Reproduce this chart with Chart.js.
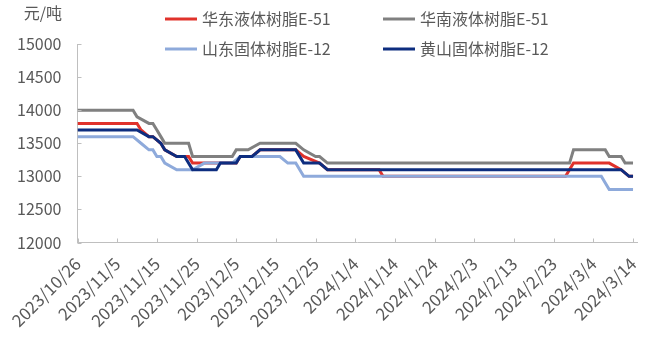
<!DOCTYPE html>
<html>
<head>
<meta charset="utf-8">
<script src="https://cdn.jsdelivr.net/npm/chart.js@4.4.1/dist/chart.umd.min.js"></script>
<style>
html,body{margin:0;padding:0;background:#ffffff;}
canvas{display:block;}
</style>
</head>
<body>
<canvas id="c" width="660" height="341"></canvas>
<script>
// ---------- data ----------
const unitLabel = '元/吨';
const startDate = '2023/10/26';
const tickLabels = ['2023/10/26','2023/11/5','2023/11/15','2023/11/25','2023/12/5','2023/12/15','2023/12/25',
  '2024/1/4','2024/1/14','2024/1/24','2024/2/3','2024/2/13','2024/2/23','2024/3/4','2024/3/14'];
const seriesNames = ['华东液体树脂E-51','华南液体树脂E-51','山东固体树脂E-12','黄山固体树脂E-12'];
const yTicks = [12000,12500,13000,13500,14000,14500,15000];

// price change points: [date, 元/吨]
const eastChinaE51 = [
  ['2023/10/26',13800],['2023/11/10',13800],['2023/11/11',13700],['2023/11/13',13600],['2023/11/14',13600],
  ['2023/11/16',13500],['2023/11/17',13400],['2023/11/20',13300],['2023/11/23',13300],['2023/11/24',13200],
  ['2023/12/5',13200],['2023/12/6',13300],['2023/12/9',13300],['2023/12/11',13400],['2023/12/20',13400],
  ['2023/12/22',13300],['2023/12/26',13200],['2023/12/28',13100],['2024/1/10',13100],['2024/1/11',13000],
  ['2024/2/26',13000],['2024/2/28',13200],['2024/3/8',13200],['2024/3/11',13100],['2024/3/13',13000],['2024/3/14',13000]
];
const southChinaE51 = [
  ['2023/10/26',14000],['2023/11/9',14000],['2023/11/10',13900],['2023/11/13',13800],['2023/11/14',13800],
  ['2023/11/15',13700],['2023/11/16',13600],['2023/11/17',13500],['2023/11/23',13500],['2023/11/24',13300],
  ['2023/12/4',13300],['2023/12/5',13400],['2023/12/8',13400],['2023/12/11',13500],['2023/12/20',13500],
  ['2023/12/22',13400],['2023/12/25',13300],['2023/12/26',13300],['2023/12/28',13200],['2024/2/27',13200],
  ['2024/2/28',13400],['2024/3/7',13400],['2024/3/8',13300],['2024/3/11',13300],['2024/3/12',13200],['2024/3/14',13200]
];
const shandongE12 = [
  ['2023/10/26',13600],['2023/11/9',13600],['2023/11/11',13500],['2023/11/13',13400],['2023/11/14',13400],
  ['2023/11/15',13300],['2023/11/16',13300],['2023/11/17',13200],['2023/11/20',13100],['2023/11/24',13100],
  ['2023/11/27',13200],['2023/12/4',13200],['2023/12/6',13300],['2023/12/16',13300],['2023/12/18',13200],
  ['2023/12/20',13200],['2023/12/22',13000],['2024/3/6',13000],['2024/3/8',12800],['2024/3/14',12800]
];
const huangshanE12 = [
  ['2023/10/26',13700],['2023/11/10',13700],['2023/11/13',13600],['2023/11/14',13600],['2023/11/16',13500],
  ['2023/11/17',13400],['2023/11/20',13300],['2023/11/22',13300],['2023/11/24',13100],['2023/11/30',13100],
  ['2023/12/1',13200],['2023/12/5',13200],['2023/12/6',13300],['2023/12/9',13300],['2023/12/11',13400],
  ['2023/12/20',13400],['2023/12/22',13200],['2023/12/26',13200],['2023/12/28',13100],['2024/3/11',13100],
  ['2024/3/13',13000],['2024/3/14',13000]
];

// ---------- helpers ----------
function dayOf(s){
  const [y,m,d] = s.split('/').map(Number);
  const [y0,m0,d0] = startDate.split('/').map(Number);
  return Math.round((Date.UTC(y,m-1,d) - Date.UTC(y0,m0-1,d0)) / 86400000);
}
const toPts = arr => arr.map(([d,v]) => ({x: dayOf(d), y: v}));
const tickDays = tickLabels.map(dayOf);
const FONT = '"Noto Sans CJK SC", "Noto Sans", sans-serif';
const colors = ['#e0322b','#808080','#8eaadb','#0d2d7f'];
const allSeries = [eastChinaE51, southChinaE51, shandongE12, huangshanE12];

const decor = {
  id: 'decor',
  afterDraw(chart){
    const {ctx, chartArea: a} = chart;
    const xs = chart.scales.x, ys = chart.scales.y;
    ctx.save();
    // inside tick marks
    ctx.strokeStyle = '#bfbfbf'; ctx.lineWidth = 1;
    ctx.beginPath();
    xs.ticks.forEach(t => {
      const px = Math.round(xs.getPixelForValue(t.value)) + 0.5;
      ctx.moveTo(px, a.bottom); ctx.lineTo(px, a.bottom - 4);
    });
    ys.ticks.forEach(t => {
      const py = Math.round(ys.getPixelForValue(t.value)) + 0.5;
      ctx.moveTo(a.left, py); ctx.lineTo(a.left + 4, py);
    });
    ctx.stroke();
    // unit label
    ctx.fillStyle = '#595959';
    ctx.font = '16px ' + FONT;
    ctx.textBaseline = 'middle';
    ctx.textAlign = 'right';
    ctx.fillText(unitLabel, 62, 13);
    // legend (2 x 2)
    ctx.textAlign = 'left';
    const colX = [165, 383], rowY = [19, 49];
    chart.data.datasets.forEach((ds, i) => {
      const lx = colX[i % 2], ly = rowY[Math.floor(i / 2)];
      ctx.strokeStyle = ds.borderColor; ctx.lineWidth = 3;
      ctx.beginPath(); ctx.moveTo(lx, ly); ctx.lineTo(lx + 32, ly); ctx.stroke();
      ctx.fillStyle = '#595959';
      ctx.fillText(ds.label, lx + 37, ly);
    });
    ctx.restore();
  }
};

new Chart(document.getElementById('c'), {
  type: 'line',
  data: {
    datasets: allSeries.map((s, i) => ({
      label: seriesNames[i],
      data: toPts(s),
      borderColor: colors[i],
      backgroundColor: colors[i],
      borderWidth: 3,
      pointRadius: 0,
      tension: 0,
      fill: false,
      order: 4 - i
    }))
  },
  options: {
    responsive: false,
    devicePixelRatio: 1,
    animation: false,
    layout: { padding: { left: 0, right: 23, top: 44, bottom: 0 } },
    plugins: { legend: { display: false }, tooltip: { enabled: false }, title: { display: false } },
    scales: {
      x: {
        type: 'linear',
        min: 0,
        max: 141,
        afterBuildTicks: s => { s.ticks = tickDays.map(v => ({ value: v })); },
        afterFit: s => { s.height = 98.5; },
        grid: { display: false, drawTicks: false },
        border: { display: true, color: '#bfbfbf', width: 1 },
        ticks: {
          autoSkip: false,
          minRotation: 45,
          maxRotation: 45,
          padding: 11,
          color: '#595959',
          font: { size: 17, family: FONT },
          callback: v => { const k = tickDays.indexOf(v); return k >= 0 ? tickLabels[k] : ''; }
        }
      },
      y: {
        min: 12000,
        max: 15000,
        afterBuildTicks: s => { s.ticks = yTicks.map(v => ({ value: v })); },
        afterFit: s => { s.width = 77.5; },
        grid: { display: false, drawTicks: false },
        border: { display: true, color: '#bfbfbf', width: 1 },
        ticks: {
          padding: 16,
          color: '#595959',
          font: { size: 16, family: FONT },
          callback: v => String(v)
        }
      }
    }
  },
  plugins: [decor]
});
</script>
</body>
</html>
